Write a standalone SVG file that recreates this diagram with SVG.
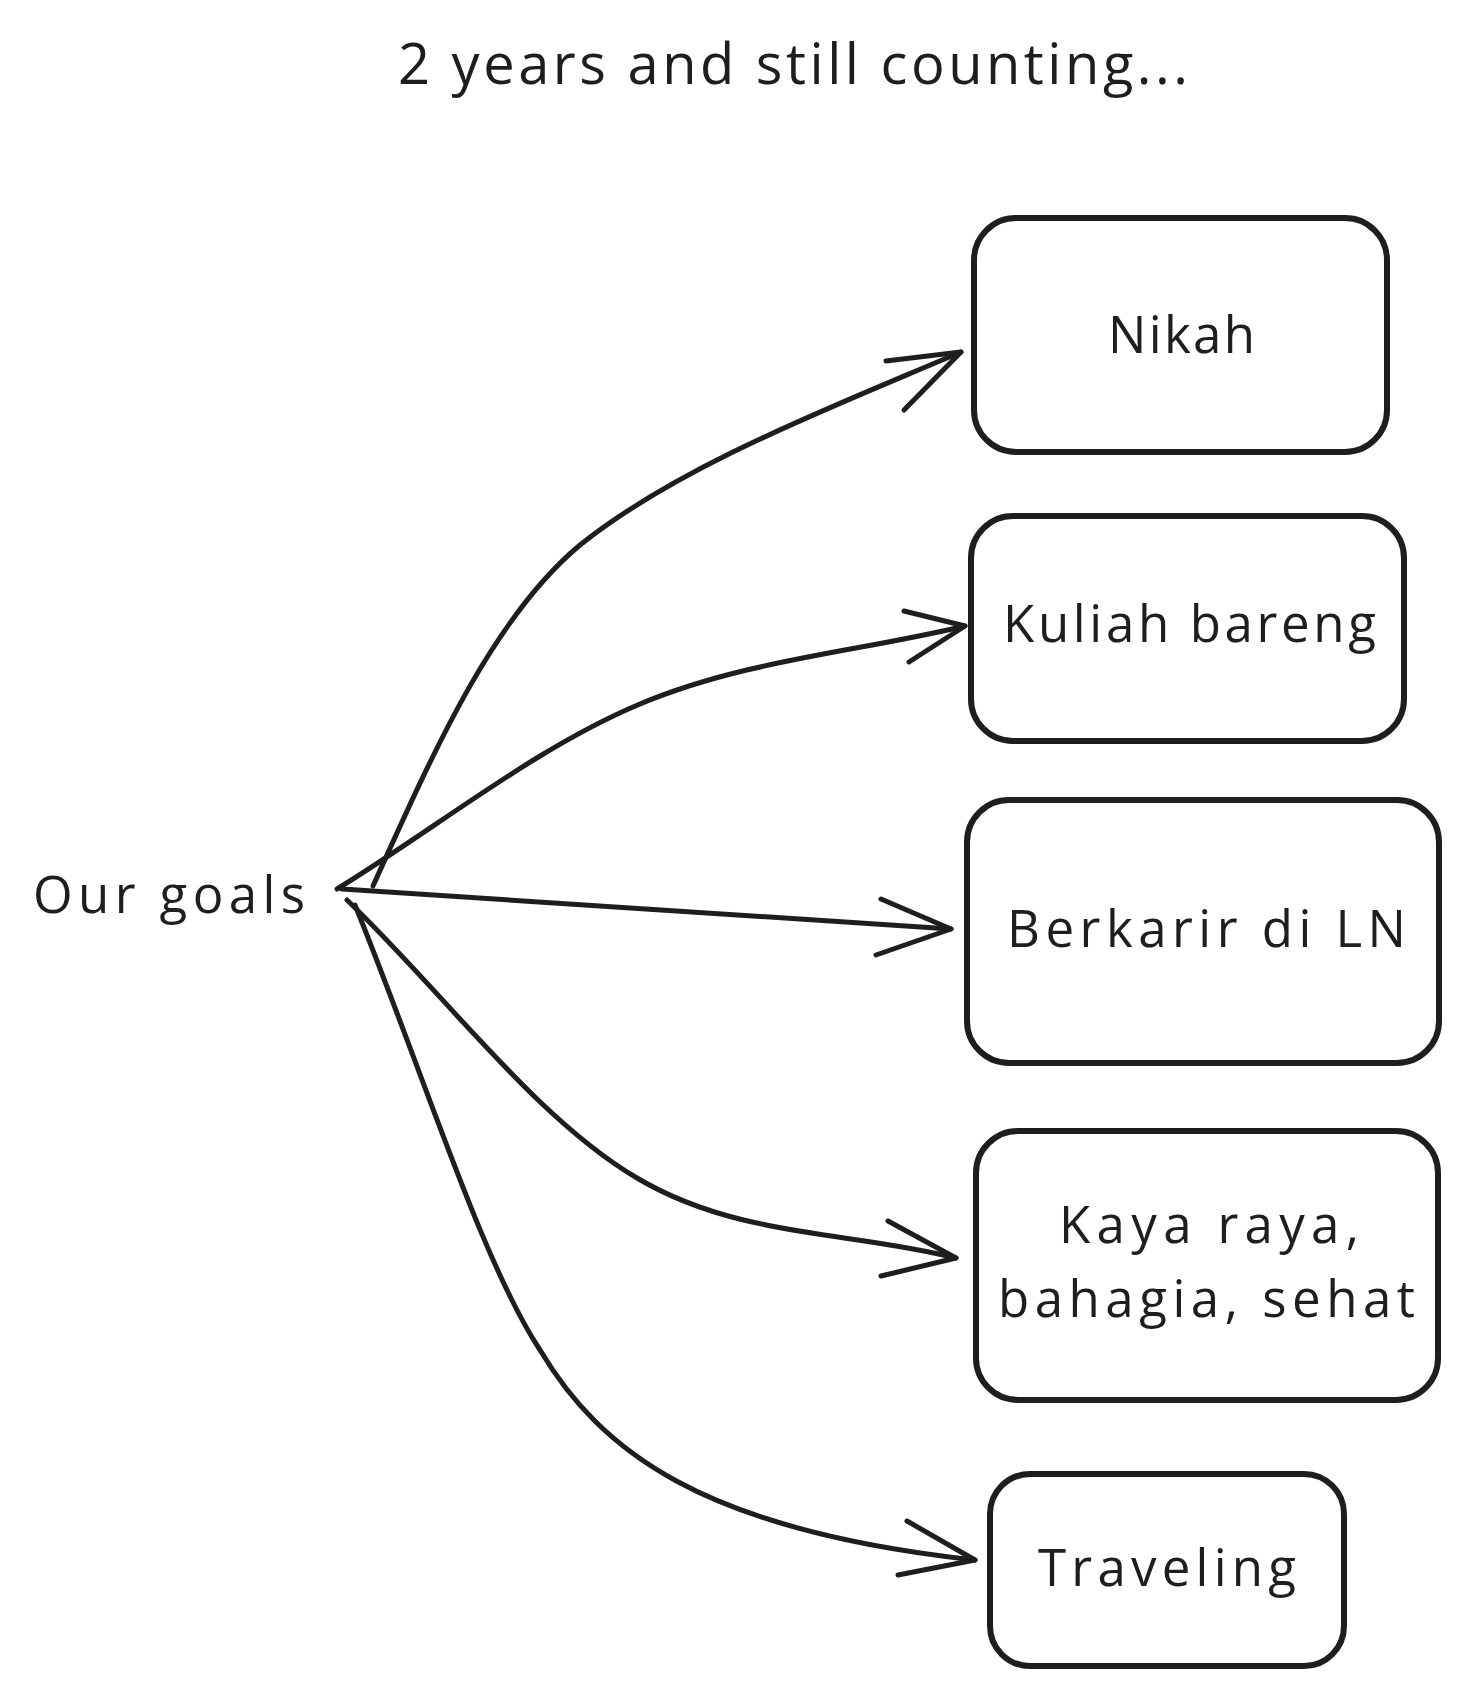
<svg xmlns="http://www.w3.org/2000/svg" width="1469" height="1695" viewBox="0 0 1469 1695">
<style>
.bg{fill:#ffffff}
.box{fill:none;stroke:#1e1e1e;stroke-width:6;stroke-linejoin:round}
.edge{fill:none;stroke:#1e1e1e;stroke-width:5;stroke-linecap:round;stroke-linejoin:round}
.t{font-family:"Open Sans","Liberation Sans",sans-serif;fill:#1e1e1e;font-size:51px}
.title{font-size:56px}
</style>
<rect class="bg" x="0" y="0" width="1469" height="1695"/>
<g id="title"><text class="t title" x="398" y="84" textLength="790">2 years and still counting...</text></g>
<g id="our-goals"><text class="t" x="33" y="913" textLength="272">Our goals</text></g>
<g id="node-nikah">
<rect class="box" x="974" y="218" width="413" height="234" rx="42"/>
<text class="t" x="1108" y="353" textLength="147">Nikah</text>
</g>
<g id="node-kuliah">
<rect class="box" x="971" y="516" width="433" height="225" rx="42"/>
<text class="t" x="1003" y="642" textLength="373">Kuliah bareng</text>
</g>
<g id="node-berkarir">
<rect class="box" x="967" y="800" width="472" height="263" rx="42"/>
<text class="t" x="1007" y="947" textLength="399">Berkarir di LN</text>
</g>
<g id="node-kaya">
<rect class="box" x="976" y="1131" width="462" height="269" rx="42"/>
<text class="t" x="1059" y="1243" textLength="300">Kaya raya,</text>
<text class="t" x="998" y="1317" textLength="417">bahagia, sehat</text>
</g>
<g id="node-traveling">
<rect class="box" x="990" y="1474" width="354" height="192" rx="40"/>
<text class="t" x="1038" y="1586" textLength="258">Traveling</text>
</g>
<g id="connectors">
<path class="edge" d="M373,886 C430,760 490,620 580,545 C680,465 830,408 961,352"/>
<polyline class="edge" points="886,361 961,352 904,410"/>
<path class="edge" d="M337,889 C438,827 535,748 640,704 C745,660 857,652 965,626"/>
<polyline class="edge" points="904,611 965,626 909,662"/>
<path class="edge" d="M342,889 L951,929"/>
<polyline class="edge" points="881,899 951,929 876,955"/>
<path class="edge" d="M347,900 C444,993 535,1118 637,1178 C738,1238 850,1231 956,1258"/>
<polyline class="edge" points="888,1221 956,1258 881,1276"/>
<path class="edge" d="M355,905 C424,1075 482,1262 540,1350 C600,1450 700,1530 975,1560"/>
<polyline class="edge" points="907,1521 975,1560 898,1575"/>
</g>
</svg>
